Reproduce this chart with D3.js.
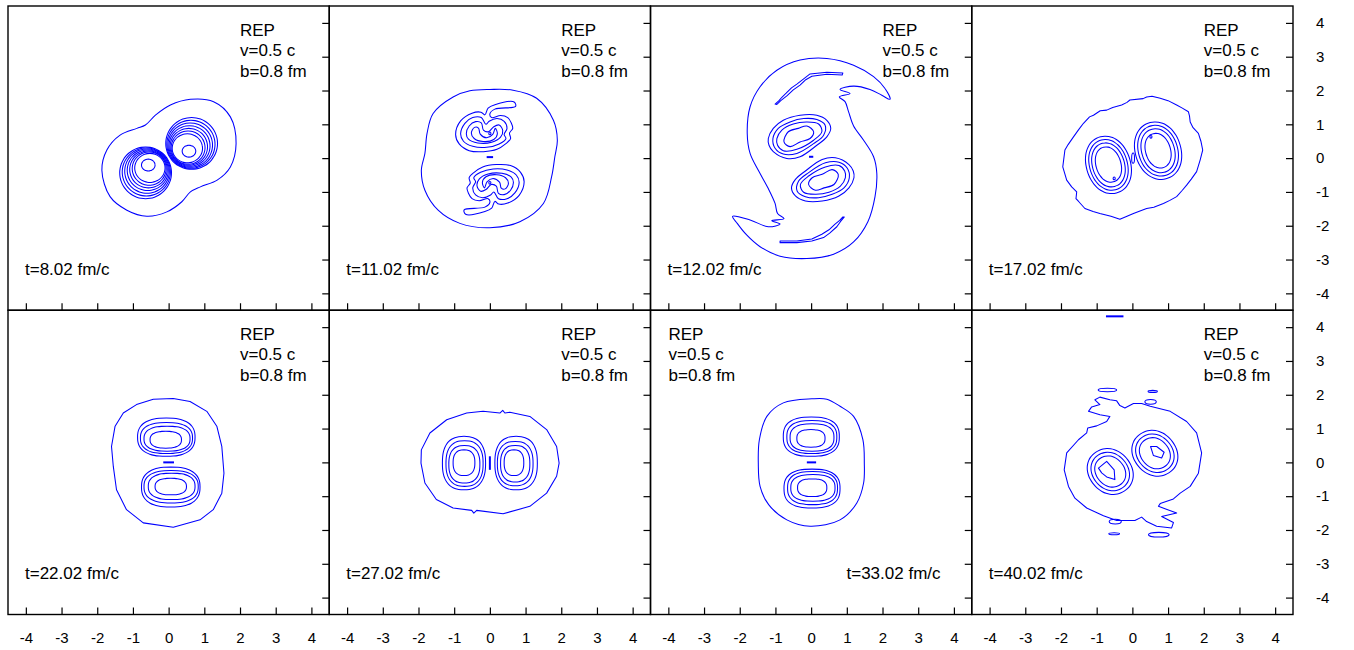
<!DOCTYPE html>
<html><head><meta charset="utf-8">
<script src="https://cdn.jsdelivr.net/npm/d3@7"></script>
<style>body{margin:0;background:#fff}svg{display:block}</style>
</head><body><svg id="c" width="1354" height="650"></svg>
<script>
// ---------------- data (fm) ----------------
const xTicks = [-4,-3,-2,-1,0,1,2,3,4];
const yTicks = [-4,-3,-2,-1,0,1,2,3,4];
const timeLabels = ["t=8.02 fm/c","t=11.02 fm/c","t=12.02 fm/c","t=17.02 fm/c","t=22.02 fm/c","t=27.02 fm/c","t=33.02 fm/c","t=40.02 fm/c"];
const infoLines = ["REP","v=0.5 c","b=0.8 fm"];

// panel 1, t=8.02
const p1Outer = [[0.61,1.74],[1.26,1.67],[1.73,1.22],[1.89,0.43],[1.73,-0.26],[1.36,-0.65],[0.89,-0.85],[0.61,-1.00],[0.37,-1.29],[-0.05,-1.59],[-0.61,-1.72],[-1.17,-1.54],[-1.64,-1.14],[-1.87,-0.36],[-1.73,0.24],[-1.36,0.68],[-0.89,0.88],[-0.65,0.98],[-0.37,1.27],[0.05,1.57]];
// ring bounds [x0, x1, y0, y1, tilt°]
const p1Rings = [
 [-1.37,0.08,-1.20,0.33],[-1.30,0.05,-1.12,0.30],[-1.23,0.02,-1.04,0.27],[-1.16,-0.01,-0.96,0.24],
 [-1.09,-0.04,-0.88,0.21],[-1.02,-0.07,-0.80,0.18],[-0.95,-0.10,-0.72,0.14],[-0.76,-0.38,-0.38,-0.03],
 [-0.08,1.37,-0.33,1.20],[-0.05,1.30,-0.30,1.12],[-0.02,1.23,-0.27,1.04],[0.01,1.16,-0.24,0.96],
 [0.04,1.09,-0.21,0.88],[0.07,1.02,-0.18,0.80],[0.10,0.95,-0.14,0.72],[0.38,0.76,0.03,0.38]];

// panel 2, t=11.02
const p2Outer = [[0,2.03],[0.65,2.01],[1.31,1.77],[1.78,1.12],[1.89,0.53],[1.82,0.04],[1.73,-0.55],[1.50,-1.34],[0.84,-1.88],[0,-2.06],[-0.84,-1.93],[-1.45,-1.54],[-1.82,-0.95],[-1.92,-0.36],[-1.82,0.14],[-1.76,0.73],[-1.59,1.32],[-1.03,1.81],[-0.56,1.99]];
const p2Upper = [
 [[-0.96,0.70],[-0.82,1.10],[-0.50,1.33],[-0.25,1.36],[-0.14,1.28],[-0.05,1.48],[0.14,1.58],[0.68,1.66],[0.72,1.53],[0.14,1.45],[0.00,1.31],[0.05,1.20],[0.30,1.26],[0.50,1.20],[0.60,1.04],[0.64,0.88],[0.55,0.74],[0.58,0.58],[0.44,0.42],[0.20,0.26],[-0.18,0.19],[-0.58,0.22],[-0.86,0.42]],
 [[-0.82,0.72],[-0.70,1.03],[-0.48,1.20],[-0.24,1.20],[-0.11,1.00],[-0.02,1.09],[0.20,1.17],[0.40,1.09],[0.48,0.88],[0.40,0.70],[0.45,0.58],[0.26,0.42],[-0.09,0.32],[-0.48,0.35],[-0.74,0.50]],
 [[-0.66,0.72],[-0.58,0.95],[-0.40,1.08],[-0.24,1.04],[-0.18,0.83],[-0.04,0.78],[0.11,0.93],[0.26,0.98],[0.36,0.82],[0.30,0.62],[0.05,0.47],[-0.34,0.45],[-0.60,0.56]],
 [[-0.52,0.74],[-0.43,0.91],[-0.32,0.89],[-0.27,0.71],[-0.09,0.60],[0.08,0.70],[0.15,0.88],[0.21,0.72],[0.11,0.55],[-0.19,0.49],[-0.44,0.58]]];
const p2Lower = [
 [[0.96,-0.70],[0.82,-1.10],[0.50,-1.33],[0.25,-1.36],[0.14,-1.28],[0.05,-1.48],[-0.14,-1.58],[-0.68,-1.66],[-0.72,-1.53],[-0.14,-1.45],[0.00,-1.31],[-0.05,-1.20],[-0.30,-1.26],[-0.50,-1.20],[-0.60,-1.04],[-0.64,-0.88],[-0.55,-0.74],[-0.58,-0.58],[-0.44,-0.42],[-0.20,-0.26],[0.18,-0.19],[0.58,-0.22],[0.86,-0.42]],
 [[0.82,-0.72],[0.70,-1.03],[0.48,-1.20],[0.24,-1.20],[0.11,-1.00],[0.02,-1.09],[-0.20,-1.17],[-0.40,-1.09],[-0.48,-0.88],[-0.40,-0.70],[-0.45,-0.58],[-0.26,-0.42],[0.09,-0.32],[0.48,-0.35],[0.74,-0.50]],
 [[0.66,-0.72],[0.58,-0.95],[0.40,-1.08],[0.24,-1.04],[0.18,-0.83],[0.04,-0.78],[-0.11,-0.93],[-0.26,-0.98],[-0.36,-0.82],[-0.30,-0.62],[-0.05,-0.47],[0.34,-0.45],[0.60,-0.56]],
 [[0.52,-0.74],[0.43,-0.91],[0.32,-0.89],[0.27,-0.71],[0.09,-0.60],[-0.08,-0.70],[-0.15,-0.88],[-0.21,-0.72],[-0.11,-0.55],[0.19,-0.49],[0.44,-0.58]]];
const p2Dots = [[0.00,0.73,0.03,0.04],[0.00,-0.73,0.03,0.04]];
const p2Dash = [[-0.09,0.03],[0.09,0.03]];

// panel 3, t=12.02
const p3Outer = [[2.21,1.74],[2.07,2.06],[1.75,2.41],[1.19,2.75],[0.44,2.95],[-0.31,2.90],[-0.96,2.60],[-1.43,2.11],[-1.71,1.52],[-1.79,0.73],[-1.71,0.14],[-1.48,-0.36],[-1.20,-0.90],[-1.01,-1.34],[-0.94,-1.64],[-0.76,-1.79],[-1.10,-1.85],[-0.87,-1.95],[-1.20,-2.03],[-1.71,-1.83],[-2.20,-1.72],[-2.07,-1.93],[-1.80,-2.28],[-1.43,-2.62],[-0.87,-2.90],[-0.12,-2.97],[0.63,-2.84],[1.19,-2.48],[1.59,-1.88],[1.79,-1.14],[1.84,-0.45],[1.75,0.04],[1.47,0.53],[1.19,0.95],[1.05,1.37],[0.95,1.67],[0.79,1.81],[1.09,1.91],[0.81,2.03],[1.19,2.13],[1.65,2.03],[1.98,1.86]];
const p3Slivers = [
 [[-1.01,1.60],[-0.90,1.70],[-0.82,1.80],[-0.70,1.92],[-0.55,2.08],[-0.40,2.19],[-0.20,2.35],[-0.03,2.49],[0.44,2.54],[0.89,2.52],[0.87,2.46],[0.44,2.48],[0.02,2.42],[-0.15,2.32],[-0.31,2.16],[-0.50,2.02],[-0.68,1.84],[-0.85,1.70],[-0.96,1.59]],
 [[0.93,-1.74],[0.82,-1.88],[0.72,-2.03],[0.52,-2.22],[0.35,-2.35],[0.02,-2.45],[-0.40,-2.50],[-0.87,-2.50],[-0.87,-2.45],[-0.40,-2.45],[0.02,-2.39],[0.30,-2.25],[0.50,-2.12],[0.67,-1.95],[0.80,-1.84],[0.89,-1.74]]];
const p3Blobs = [
 [[-1.20,0.58],[-1.06,0.88],[-0.78,1.12],[-0.31,1.27],[0.16,1.27],[0.44,1.12],[0.55,0.88],[0.44,0.63],[0.16,0.38],[-0.31,0.04],[-0.68,-0.01],[-1.06,0.19],[-1.18,0.38]],
 [[-1.07,0.58],[-0.92,0.88],[-0.59,1.07],[-0.21,1.17],[0.16,1.14],[0.39,0.98],[0.35,0.68],[0.07,0.43],[-0.40,0.14],[-0.78,0.12],[-1.01,0.29]],
 [[-0.96,0.58],[-0.82,0.83],[-0.50,1.01],[-0.12,1.07],[0.21,1.01],[0.30,0.78],[0.07,0.53],[-0.40,0.26],[-0.78,0.22],[-0.94,0.38]],
 [[-0.76,0.48],[-0.64,0.78],[-0.36,0.88],[-0.12,0.95],[0.07,0.78],[-0.03,0.58],[-0.31,0.48],[-0.59,0.34]],
 [[1.20,-0.58],[1.06,-0.88],[0.78,-1.12],[0.31,-1.27],[-0.16,-1.27],[-0.44,-1.12],[-0.55,-0.88],[-0.44,-0.63],[-0.16,-0.38],[0.31,-0.04],[0.68,0.01],[1.06,-0.19],[1.18,-0.38]],
 [[1.07,-0.58],[0.92,-0.88],[0.59,-1.07],[0.21,-1.17],[-0.16,-1.14],[-0.39,-0.98],[-0.35,-0.68],[-0.07,-0.43],[0.40,-0.14],[0.78,-0.12],[1.01,-0.29]],
 [[0.96,-0.58],[0.82,-0.83],[0.50,-1.01],[0.12,-1.07],[-0.21,-1.01],[-0.30,-0.78],[-0.07,-0.53],[0.40,-0.26],[0.78,-0.22],[0.94,-0.38]],
 [[0.76,-0.48],[0.64,-0.78],[0.36,-0.88],[0.12,-0.95],[-0.07,-0.78],[0.03,-0.58],[0.31,-0.48],[0.59,-0.34]]];
const p3Dash = [[-0.06,0.04],[0.06,0.04]];

// panel 4, t=17.02
const p4Outer = [[0.40,1.81],[0.30,1.76],[-0.07,1.72],[-0.15,1.65],[-0.30,1.57],[-0.55,1.50],[-0.72,1.42],[-0.90,1.40],[-1.09,1.27],[-1.20,1.22],[-1.37,1.03],[-1.50,0.85],[-1.65,0.63],[-1.80,0.40],[-1.89,0.24],[-1.95,-0.26],[-1.84,-0.65],[-1.70,-0.85],[-1.56,-1.00],[-1.58,-1.20],[-1.50,-1.29],[-1.33,-1.49],[-1.10,-1.58],[-0.91,-1.64],[-0.60,-1.72],[-0.35,-1.81],[-0.15,-1.72],[0.03,-1.64],[0.25,-1.55],[0.40,-1.49],[0.60,-1.45],[0.87,-1.34],[1.05,-1.25],[1.24,-1.14],[1.40,-0.95],[1.52,-0.80],[1.65,-0.62],[1.80,-0.40],[1.90,-0.05],[1.97,0.24],[1.92,0.50],[1.85,0.73],[1.70,0.90],[1.62,1.07],[1.60,1.25],[1.57,1.37],[1.40,1.48],[1.24,1.57],[1.00,1.70],[0.78,1.77],[0.55,1.83]];
const p4Rings = [
 [-1.29,-0.05,-1.06,0.66,15],[-1.20,-0.14,-0.96,0.56,15],[-1.12,-0.22,-0.86,0.46,15],[-1.02,-0.32,-0.72,0.34,15],
 [0.08,1.36,-0.64,1.08,15],[0.17,1.27,-0.54,0.98,15],[0.26,1.18,-0.44,0.88,15],[0.37,1.07,-0.30,0.74,15]];
const p4Dots = [[0.52,0.63,0.03,0.04],[-0.51,-0.60,0.03,0.04],[0.02,0.0,0.04,0.15]];

// panel 5, t=22.02
const p5Outer = [[0.13,1.89],[-0.43,1.87],[-0.90,1.71],[-1.27,1.46],[-1.50,1.07],[-1.60,0.47],[-1.55,-0.12],[-1.46,-0.81],[-1.18,-1.40],[-0.71,-1.79],[0.13,-1.92],[0.88,-1.70],[1.25,-1.40],[1.49,-0.91],[1.55,-0.32],[1.49,0.47],[1.35,1.07],[1.07,1.51],[0.60,1.80]];
const p5Rings = [
 [-0.87,0.74,0.18,1.31],[-0.79,0.67,0.26,1.18],[-0.69,0.60,0.33,1.07],[-0.52,0.36,0.42,0.92],
 [-0.76,0.88,-1.32,-0.14],[-0.69,0.83,-1.20,-0.24],[-0.57,0.74,-1.10,-0.32],[-0.38,0.50,-0.96,-0.47]];
const p5Dash = [[-0.15,0],[0.15,0]];

// panel 6, t=27.02
const p6Outer = [[-0.19,1.51],[-0.65,1.46],[-1.21,1.26],[-1.68,0.87],[-1.92,0.37],[-1.93,-0.02],[-1.82,-0.61],[-1.50,-1.10],[-1.03,-1.35],[-0.51,-1.42],[-0.45,-1.50],[-0.37,-1.42],[0.37,-1.52],[1.12,-1.30],[1.59,-0.91],[1.87,-0.41],[1.94,-0.02],[1.87,0.47],[1.59,0.97],[1.12,1.36],[0.56,1.48],[0.42,1.46],[0.36,1.54],[0.28,1.46]];
const p6Rings = [
 [-1.33,-0.12,-0.81,0.77],[-1.23,-0.19,-0.71,0.64],[-1.15,-0.28,-0.61,0.50],[-1.03,-0.42,-0.39,0.37],
 [0.14,1.33,-0.81,0.77],[0.21,1.21,-0.69,0.62],[0.30,1.12,-0.58,0.50],[0.40,0.95,-0.39,0.37]];
const p6Dash = [[0,-0.22],[0,0.18]];

// panel 7, t=33.02
const p7Outer = [[0.02,1.88],[-0.78,1.76],[-1.24,1.36],[-1.45,0.67],[-1.48,-0.02],[-1.43,-0.71],[-1.19,-1.25],[-0.68,-1.70],[-0.03,-1.89],[0.81,-1.70],[1.28,-1.20],[1.47,-0.61],[1.49,-0.02],[1.45,0.67],[1.19,1.36],[0.81,1.66],[0.44,1.87]];
const p7Rings = [
 [-0.78,0.79,0.18,1.34],[-0.68,0.72,0.26,1.24],[-0.59,0.64,0.33,1.14],[-0.40,0.39,0.45,0.97],
 [-0.76,0.81,-1.35,-0.20],[-0.66,0.74,-1.25,-0.27],[-0.57,0.67,-1.15,-0.36],[-0.38,0.44,-1.01,-0.49]];
const p7Dash = [[-0.12,0],[0.14,0]];

// panel 8, t=40.02
const p8Outer = [[-1.84,0.28],[-1.51,0.67],[-1.28,0.87],[-1.25,1.02],[-1.00,1.08],[-0.72,1.21],[-0.63,1.36],[-0.91,1.41],[-1.23,1.51],[-1.14,1.64],[-0.91,1.71],[-1.05,1.85],[-0.91,1.93],[-0.63,1.85],[-0.44,1.82],[-0.35,1.68],[-0.21,1.61],[0.03,1.74],[0.26,1.74],[0.50,1.66],[1.06,1.51],[1.52,1.21],[1.80,0.87],[1.94,0.28],[1.85,-0.32],[1.62,-0.71],[1.34,-0.91],[1.15,-1.08],[0.78,-1.22],[0.73,-1.30],[1.24,-1.50],[0.82,-1.60],[1.15,-1.78],[1.10,-1.94],[0.68,-1.89],[0.40,-1.75],[0.26,-1.62],[0.07,-1.72],[-0.44,-1.72],[-0.81,-1.58],[-1.28,-1.35],[-1.61,-1.06],[-1.79,-0.71],[-1.91,-0.22]];
const p8Islands = [[-0.70,2.14,0.26,0.05],[0.57,2.10,0.13,0.03],[0.51,1.79,0.16,0.07],[-0.48,-1.75,0.17,0.07],[-0.51,-2.11,0.15,0.03],[0.74,-2.14,0.29,0.07]];
const p8Rings = [
 [-1.22,-0.02,-0.97,0.43,35],[-1.12,-0.12,-0.86,0.32,35],[-1.02,-0.22,-0.75,0.21,35],
 [0.03,1.23,-0.43,0.97,35],[0.13,1.13,-0.32,0.86,35],[0.23,1.03,-0.21,0.75,35]];
const p8Cores = [
 [[-0.95,-0.17],[-0.72,0.03],[-0.51,-0.22],[-0.49,-0.51],[-0.72,-0.43],[-0.86,-0.31]],
 [[0.51,0.47],[0.68,0.47],[0.89,0.30],[0.82,0.13],[0.59,0.20]]];
const p8Dash = [[-0.74,4.32],[-0.25,4.32]];

// ---------------- assembly ----------------
const panels = [
 {smooth:[p1Outer], jag:[], rings:p1Rings, isl:[], dash:[], sq:2.0, info:"right", time:"left"},
 {smooth:[p2Outer,...p2Upper,...p2Lower], jag:[], rings:[], isl:p2Dots, dash:[p2Dash], sq:2, info:"right", time:"left"},
 {smooth:[p3Outer,...p3Blobs], jag:p3Slivers, rings:[], isl:[], dash:[p3Dash], sq:2, info:"right", time:"left"},
 {smooth:[], jag:[p4Outer], rings:p4Rings, isl:p4Dots, dash:[], sq:2.1, info:"right", time:"left"},
 {smooth:[], jag:[p5Outer], rings:p5Rings, isl:[], dash:[p5Dash], sq:2.5, info:"right", time:"left"},
 {smooth:[], jag:[p6Outer], rings:p6Rings, isl:[], dash:[p6Dash], sq:2.5, info:"right", time:"left"},
 {smooth:[p7Outer], jag:[], rings:p7Rings, isl:[], dash:[p7Dash], sq:2.6, info:"left", time:"right"},
 {smooth:[], jag:[p8Outer,...p8Cores], rings:p8Rings, isl:p8Islands, dash:[p8Dash], sq:2.1, info:"right", time:"left"}
];

const svg = d3.select("#c");
const PW = 321.25, PH = 304.25, X0 = 8, Y0 = 6;
const FONT = "'Liberation Sans', Arial, sans-serif";
const BLUE = "#0000ff";
const fmt = d => String(d);

function superPts(r, n){
  const [x0,x1,y0,y1] = r, tilt=(r[4]||0)*Math.PI/180;
  const cx=(x0+x1)/2, cy=(y0+y1)/2, rx=(x1-x0)/2, ry=(y1-y0)/2;
  const ct=Math.cos(tilt), st=Math.sin(tilt);
  const pts=[]; const N=36;
  for(let i=0;i<N;i++){const t=2*Math.PI*i/N, c=Math.cos(t), s=Math.sin(t);
    const u=rx*Math.sign(c)*Math.pow(Math.abs(c),2/n), v=ry*Math.sign(s)*Math.pow(Math.abs(s),2/n);
    pts.push([cx+u*ct-v*st, cy+u*st+v*ct]);}
  return pts;
}

panels.forEach((p,i)=>{
  const col=i%4, row=Math.floor(i/4);
  const L=X0+col*PW, T=Y0+row*PH, R=L+PW, B=T+PH;
  const x=d3.scaleLinear().domain([-4.5,4.5]).range([L,R]);
  const y=d3.scaleLinear().domain([-4.5,4.5]).range([B,T]);
  const g=svg.append("g");
  const smooth=d3.line().x(d=>x(d[0])).y(d=>y(d[1])).curve(d3.curveCatmullRomClosed.alpha(0.5));
  const jag=d3.line().x(d=>x(d[0])).y(d=>y(d[1])).curve(d3.curveLinearClosed);
  const open=d3.line().x(d=>x(d[0])).y(d=>y(d[1]));
  const cg=g.append("g").attr("fill","none").attr("stroke",BLUE).attr("stroke-width",1.05).attr("stroke-linejoin","round");
  p.smooth.forEach(s=>cg.append("path").attr("d",smooth(s)));
  p.jag.forEach(s=>cg.append("path").attr("d",jag(s)));
  p.rings.forEach(r=>cg.append("path").attr("d",smooth(superPts(r,p.sq))));
  p.isl.forEach(e=>cg.append("ellipse").attr("cx",x(e[0])).attr("cy",y(e[1]))
     .attr("rx",x(e[2])-x(0)).attr("ry",y(0)-y(e[3])));
  p.dash.forEach(s=>cg.append("path").attr("d",open(s)).attr("stroke-width",2));

  // frame
  g.append("rect").attr("x",L).attr("y",T).attr("width",PW).attr("height",PH)
   .attr("fill","none").attr("stroke","#000").attr("stroke-width",1.4);

  // ticks
  const ax=g.append("g").attr("transform",`translate(0,${B})`)
    .call(d3.axisBottom(x).tickValues(xTicks).tickSizeInner(-7).tickSizeOuter(0).tickPadding(18)
      .tickFormat(row===1?fmt:()=>""));
  const ay=g.append("g").attr("transform",`translate(${R},0)`)
    .call(d3.axisRight(y).tickValues(yTicks).tickSizeInner(-7).tickSizeOuter(0).tickPadding(23)
      .tickFormat(col===3?fmt:()=>""));
  [ax,ay].forEach(a=>{a.select(".domain").remove();
    a.selectAll("line").attr("stroke","#000").attr("stroke-width",1.2);
    a.selectAll("text").attr("fill","#000").style("font-family",FONT).style("font-size","15px");});

  // labels
  const ix = p.info==="right" ? L+232 : L+18;
  infoLines.forEach((t,k)=>g.append("text").attr("x",ix).attr("y",T+29.5+k*20.5).text(t)
     .style("font-family",FONT).style("font-size","17px").attr("fill","#000"));
  const tx = p.time==="left" ? L+17 : L+196;
  g.append("text").attr("x",tx).attr("y",T+269).text(timeLabels[i])
     .style("font-family",FONT).style("font-size","17px").attr("fill","#000");
});
</script></body></html>
